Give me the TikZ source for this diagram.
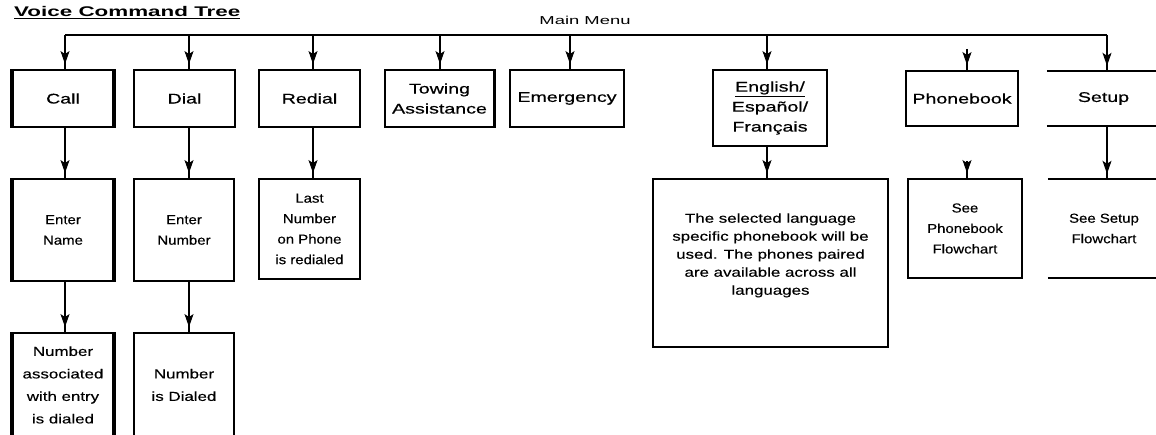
\documentclass[tikz,border=0pt]{standalone}
\usepackage{fontspec}
\setmainfont{Liberation Sans}
\newfontfamily\fA{Liberation Sans}[FakeStretch=1.4,FakeBold=0.6]
\newfontfamily\fB{Liberation Sans}[FakeStretch=1.15,FakeBold=0.3]
\newfontfamily\fC{Liberation Sans}[FakeStretch=1.3,FakeBold=0.3]
\newfontfamily\fT{Liberation Sans}[FakeStretch=1.6]
\usetikzlibrary{arrows.meta,decorations.markings}
\begin{document}
\begin{tikzpicture}[x=1pt,y=-1pt,
  box/.style={draw, line width=1.9pt, rectangle, align=center, inner sep=2pt},
  openbox/.style={rectangle, align=center, inner sep=2pt},
  toptext/.style={font=\fA\fontsize{14}{20}\selectfont},
  midtext/.style={font=\fB\fontsize{13}{20.5}\selectfont},
  desctext/.style={font=\fC\fontsize{13}{18}\selectfont},
  lowtext/.style={font=\fC\fontsize{13}{22.5}\selectfont},
  edge/.style={line width=1.9pt},
  thickedge/.style={line width=3.6pt},
  bus/.style={line width=2pt},
  conn/.style={line width=1.8pt, postaction={decorate},
    decoration={markings, mark=at position -5pt with {\arrow[line width=1pt]{Stealth[length=13pt,width=9pt,inset=3pt]}}}}
]
\useasboundingbox (0,0) rectangle (1156,435);
\clip (0,0) rectangle (1156,435);
\fill[white] (0,0) rectangle (1156,435);

% title and menu label
\node[anchor=base west, inner sep=0, font=\fT\bfseries\fontsize{14}{16}\selectfont] (title) at (14,17) {\underline{Voice Command Tree}};
\node[inner sep=0, font=\fT\fontsize{11.5}{14}\selectfont] (menu) at (585,20) {Main Menu};

% top row
\node[box, toptext, minimum width=100, minimum height=57] (call) at (63,98.5) {Call};
\node[box, toptext, minimum width=101, minimum height=57] (dial) at (184.5,98.5) {Dial};
\node[box, toptext, minimum width=101, minimum height=57] (redial) at (309.5,98.5) {Redial};
\node[box, toptext, minimum width=109, minimum height=57] (towing) at (439.5,98.5) {Towing\\Assistance};
\node[box, toptext, minimum width=114, minimum height=57] (emerg) at (567,98.5) {Emergency};
\node[box, toptext, minimum width=114, minimum height=76] (lang) at (770,108) {\underline{English/}\\Español/\\Français};
\node[box, toptext, minimum width=112, minimum height=55] (pbook) at (962,98.5) {Phonebook};
\node[openbox, toptext, minimum width=113, minimum height=55] (setup) at (1103.5,98.5) {Setup};
\draw[edge] (setup.north west) -- (setup.north east);
\draw[edge] (setup.south west) -- (setup.south east);

% second row
\node[box, midtext, minimum width=100, minimum height=102] (entername) at (63,230) {Enter\\Name};
\node[box, midtext, minimum width=100, minimum height=102] (enternum) at (184,230) {Enter\\Number};
\node[box, midtext, minimum width=101, minimum height=100] (lastnum) at (309.5,229) {Last\\Number\\on Phone\\is redialed};
\node[box, desctext, minimum width=235, minimum height=168] (langdesc) at (770.5,263) {The selected language\\specific phonebook will be\\used. The phones paired\\are available across all\\languages\\\mbox{}};
\node[box, midtext, minimum width=114, minimum height=99] (pbflow) at (965,228.5) {See\\Phonebook\\Flowchart};
\node[openbox, midtext, minimum width=112, minimum height=99] (setupflow) at (1104,228.5) {See Setup\\Flowchart};
\draw[edge] (setupflow.north west) -- (setupflow.north east);
\draw[edge] (setupflow.south west) -- (setupflow.south east);

% third row
\node[box, lowtext, minimum width=100, minimum height=104] (numassoc) at (63,385) {Number\\associated\\with entry\\is dialed};
\node[box, lowtext, minimum width=100, minimum height=104] (numdialed) at (184,385) {Number\\is Dialed};

% heavier edges
\draw[thickedge] (call.north west) -- (call.south west);
\draw[thickedge] (call.north east) -- (call.south east);
\draw[thickedge] (entername.north west) -- (entername.south west);
\draw[thickedge] (entername.north east) -- (entername.south east);
\draw[thickedge] (numassoc.north west) -- (numassoc.south west);
\draw[thickedge] (numassoc.north east) -- (numassoc.south east);
\draw[line width=3pt] (towing.north east) -- (towing.south east);

% bus
\coordinate (b1) at (65,35);
\coordinate (b2) at (189,35);
\coordinate (b3) at (313,35);
\coordinate (b4) at (440,35);
\coordinate (b5) at (570,35);
\coordinate (b6) at (767,35);
\coordinate (b7) at (1107,35);
\draw[bus] (b1) -- (b7);
\draw[conn] (b1) -- (b1 |- call.north);
\draw[conn] (b2) -- (b2 |- dial.north);
\draw[conn] (b3) -- (b3 |- redial.north);
\draw[conn] (b4) -- (b4 |- towing.north);
\draw[conn] (b5) -- (b5 |- emerg.north);
\draw[conn] (b6) -- (b6 |- lang.north);
\draw[conn] (b7) -- (b7 |- setup.north);

% phonebook arrow fragments
\coordinate (p1) at (967,49);
\coordinate (p2) at (967,161);
\draw[conn] (p1) -- (p1 |- pbook.north);
\draw[conn] (p2) -- (p2 |- pbflow.north);

% row 1 -> row 2
\draw[conn] (call.south -| b1) -- (b1 |- entername.north);
\draw[conn] (dial.south -| b2) -- (b2 |- enternum.north);
\draw[conn] (redial.south -| b3) -- (b3 |- lastnum.north);
\draw[conn] (lang.south -| b6) -- (b6 |- langdesc.north);
\draw[conn] (setup.south -| b7) -- (b7 |- setupflow.north);

% row 2 -> row 3
\draw[conn] (entername.south -| b1) -- (b1 |- numassoc.north);
\draw[conn] (enternum.south -| b2) -- (b2 |- numdialed.north);
\end{tikzpicture}
\end{document}
